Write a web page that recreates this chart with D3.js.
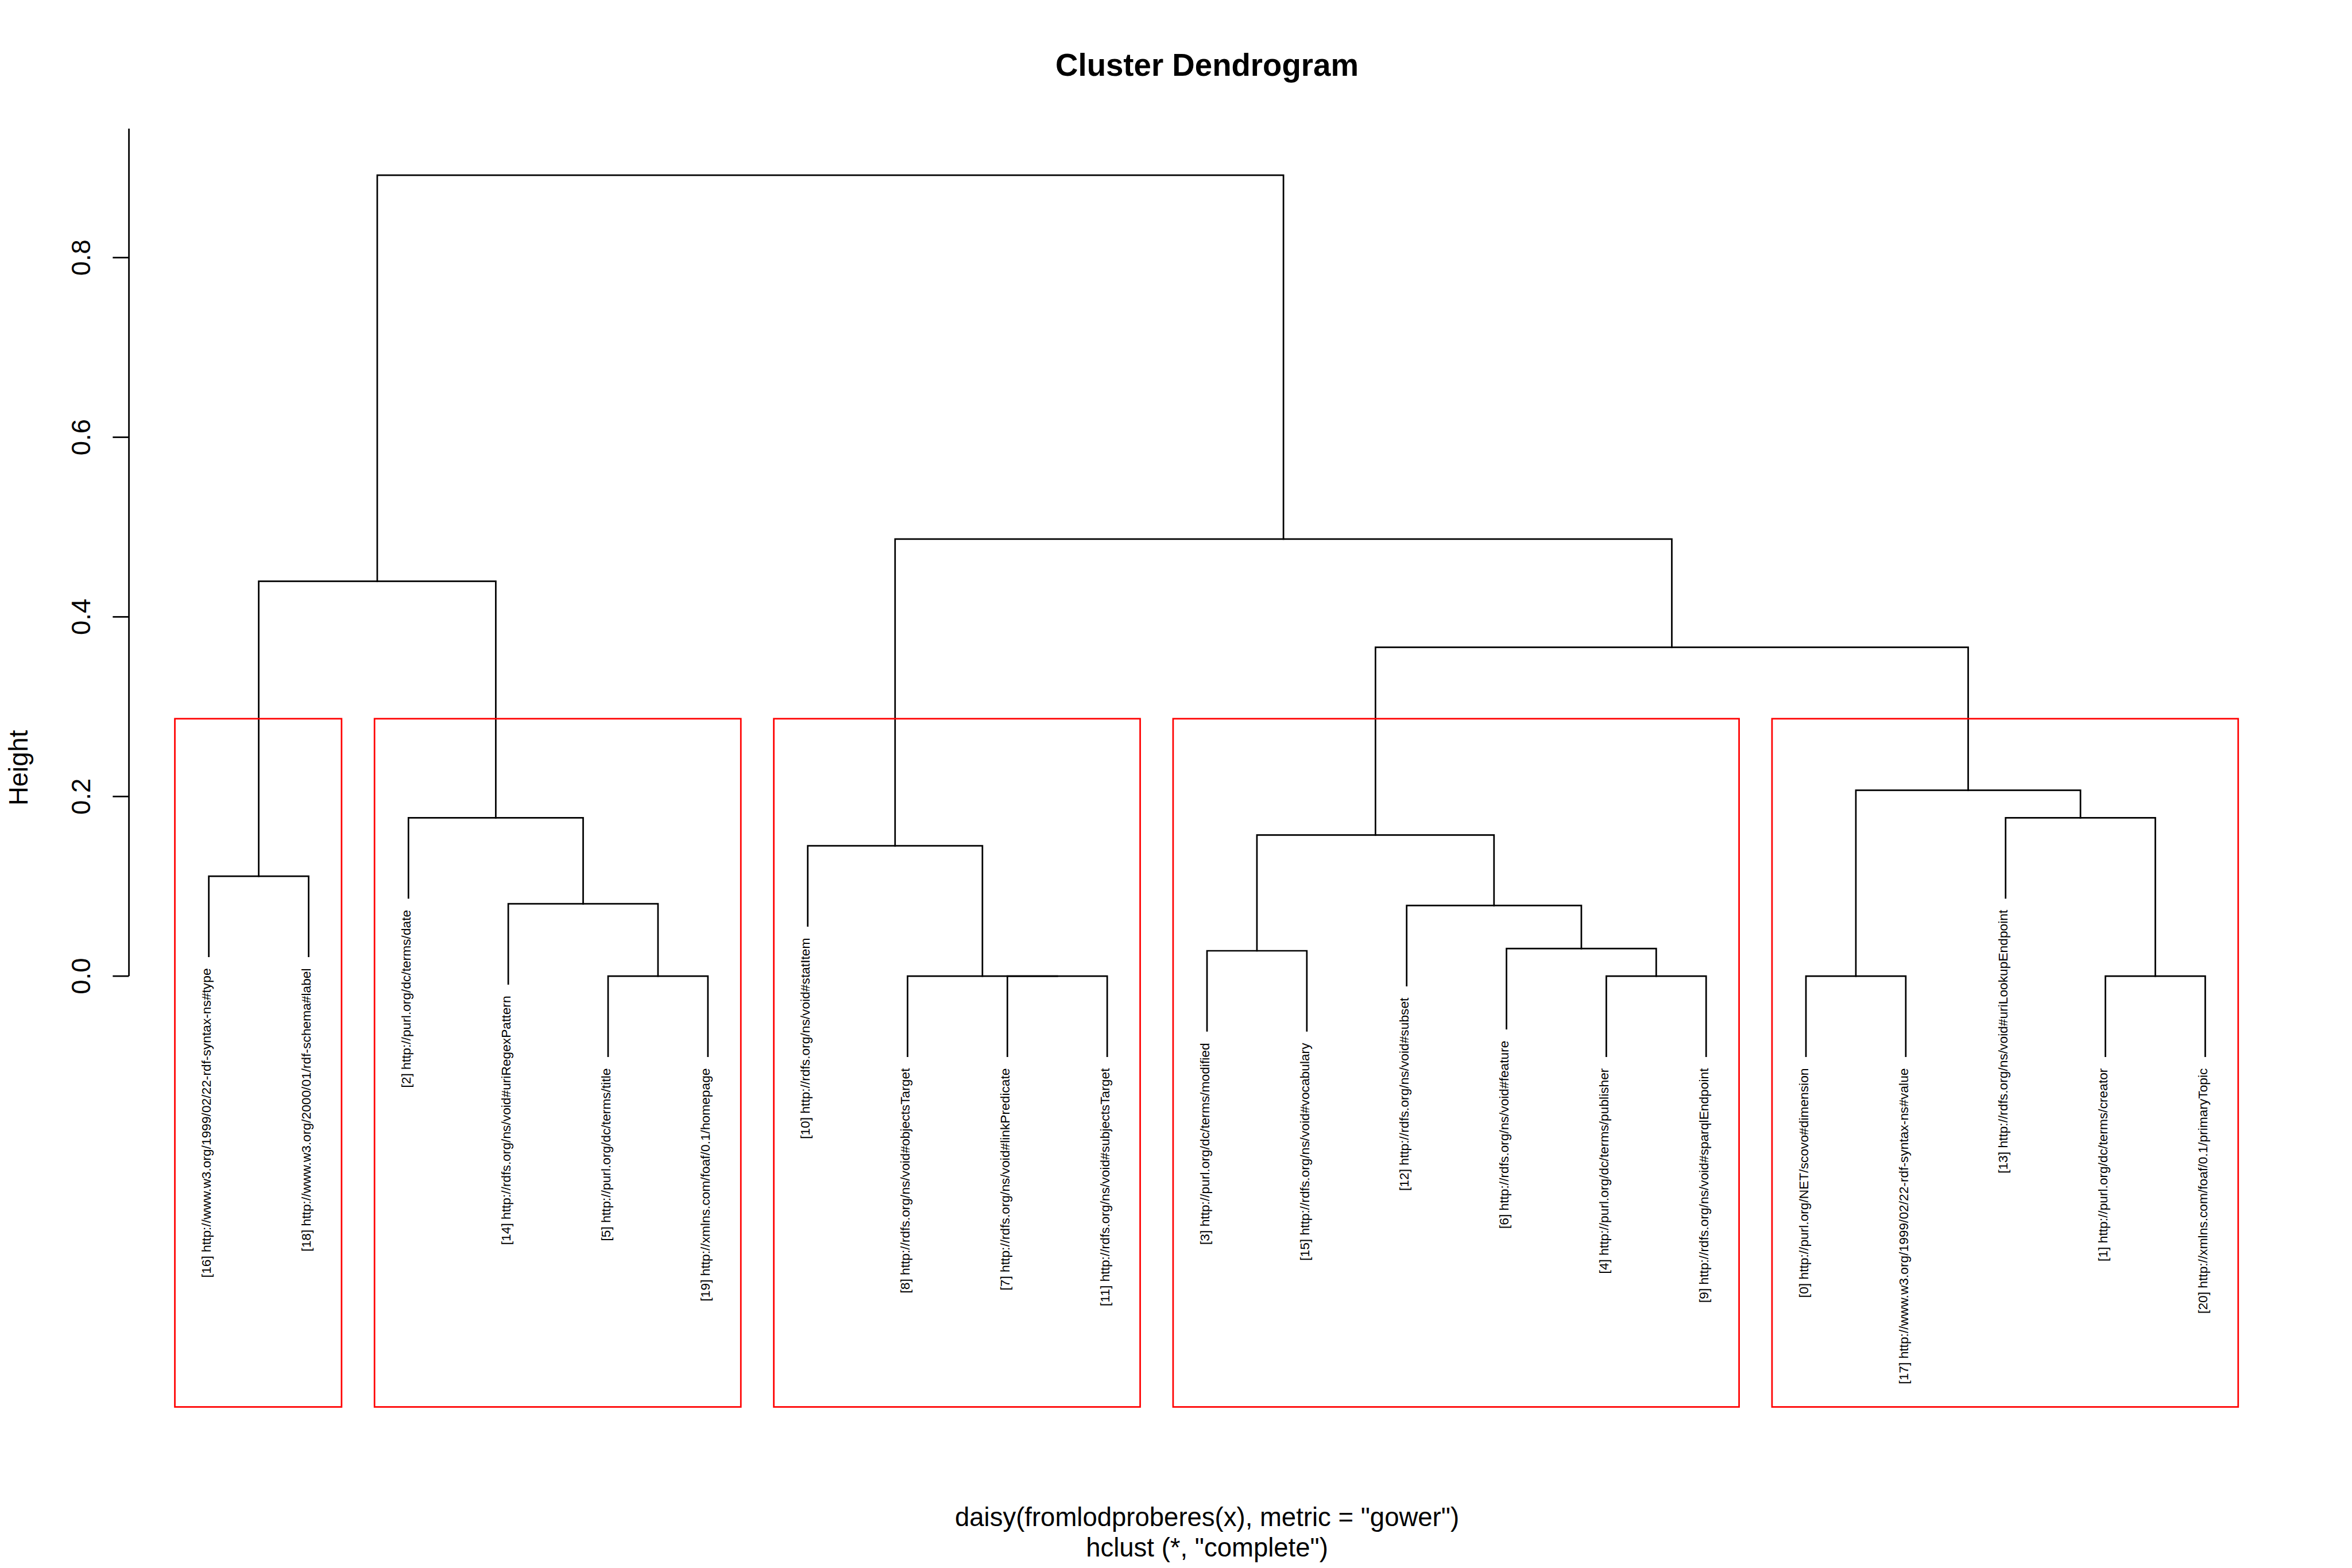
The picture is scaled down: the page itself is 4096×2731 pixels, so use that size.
<!DOCTYPE html>
<html>
<head>
<meta charset="utf-8">
<script src="https://cdn.jsdelivr.net/npm/d3@7"></script>
<style>
  html, body { margin: 0; padding: 0; background: #ffffff; }
  svg { display: block; }
  text { font-family: "Liberation Sans", Arial, Helvetica, sans-serif; fill: #000; }
</style>
</head>
<body>
<script>
// ---------------- DATA ----------------
// Leaf labels in dendrogram (left-to-right) order
const leafLabels = [
  "[16] http://www.w3.org/1999/02/22-rdf-syntax-ns#type",
  "[18] http://www.w3.org/2000/01/rdf-schema#label",
  "[2] http://purl.org/dc/terms/date",
  "[14] http://rdfs.org/ns/void#uriRegexPattern",
  "[5] http://purl.org/dc/terms/title",
  "[19] http://xmlns.com/foaf/0.1/homepage",
  "[10] http://rdfs.org/ns/void#statItem",
  "[8] http://rdfs.org/ns/void#objectsTarget",
  "[7] http://rdfs.org/ns/void#linkPredicate",
  "[11] http://rdfs.org/ns/void#subjectsTarget",
  "[3] http://purl.org/dc/terms/modified",
  "[15] http://rdfs.org/ns/void#vocabulary",
  "[12] http://rdfs.org/ns/void#subset",
  "[6] http://rdfs.org/ns/void#feature",
  "[4] http://purl.org/dc/terms/publisher",
  "[9] http://rdfs.org/ns/void#sparqlEndpoint",
  "[0] http://purl.org/NET/scovo#dimension",
  "[17] http://www.w3.org/1999/02/22-rdf-syntax-ns#value",
  "[13] http://rdfs.org/ns/void#uriLookupEndpoint",
  "[1] http://purl.org/dc/terms/creator",
  "[20] http://xmlns.com/foaf/0.1/primaryTopic"
];
// R-style merge matrix: negative = leaf (1-based position in leafLabels), positive = earlier merge step
const mergeLeft  = [-5, -9, -8, -15, -17, -20, -11, -14, -13, -4, -1, -7,  7,  -3, -19,  5, 13, 11, 12, 18];
const mergeRight = [-6, -10, 2, -16, -18, -21, -12,   4,   8,  1, -2,  3,  9,  10,   6, 15, 16, 14, 17, 19];
const mergeHeight = [0, 0, 0, 0, 0, 0, 0.0282, 0.0307, 0.0786, 0.0806, 0.1113, 0.1451, 0.1571,
                     0.1763, 0.1763, 0.2070, 0.3662, 0.4396, 0.4866, 0.8918];
const yTicks = [0.0, 0.2, 0.4, 0.6, 0.8];
const yTickLabels = ["0.0", "0.2", "0.4", "0.6", "0.8"];
const nClusters = 5;
const titleText = "Cluster Dendrogram";
const yLabel = "Height";
const xLabel = "daisy(fromlodproberes(x), metric = \"gower\")";
const subLabel = "hclust (*, \"complete\")";

// ---------------- LAYOUT ----------------
const W = 4500, H = 3000;
const svg = d3.select("body").append("svg")
  .attr("width", 4096).attr("height", 2731)
  .attr("viewBox", `0 0 ${W} ${H}`);
svg.append("rect").attr("width", W).attr("height", H).attr("fill", "#fff");

const plotLeft = 246.7, plotRight = 4372, plotTop = 246, plotBottom = 2692;
const nLeaves = leafLabels.length;
const x = d3.scaleLinear().domain([1 - 0.04 * (nLeaves - 1), nLeaves + 0.04 * (nLeaves - 1)]).range([plotLeft, plotRight]);
const y = d3.scaleLinear().domain([-0.4797, 0.9436]).range([plotBottom, plotTop]);
const hang = 0.1 * d3.max(mergeHeight);
const LW = 3;

// compute node positions
const nodeX = [], nodeH = [];
const leafTop = new Array(nLeaves + 1);
function childX(c) { return c < 0 ? -c : nodeX[c - 1]; }
function childH(c, parentH) { return c < 0 ? parentH - hang : nodeH[c - 1]; }
mergeLeft.forEach((l, i) => {
  const r = mergeRight[i];
  nodeX.push((childX(l) + childX(r)) / 2);
  nodeH.push(mergeHeight[i]);
});

const g = svg.append("g").attr("fill", "none").attr("stroke", "#000").attr("stroke-width", LW)
  .attr("stroke-linecap", "square").attr("stroke-linejoin", "miter");
mergeLeft.forEach((l, i) => {
  const r = mergeRight[i];
  const h = mergeHeight[i];
  const x1 = childX(l), x2 = childX(r);
  const h1 = childH(l, h), h2 = childH(r, h);
  if (l < 0) leafTop[-l] = h1;
  if (r < 0) leafTop[-r] = h2;
  const path = d3.path();
  path.moveTo(x(x1), y(h1));
  path.lineTo(x(x1), y(h));
  path.lineTo(x(x2), y(h));
  path.lineTo(x(x2), y(h2));
  g.append("path").attr("d", path.toString());
});

// leaf labels
leafLabels.forEach((lab, i) => {
  const pos = i + 1;
  const tx = x(pos) + 4, ty = y(leafTop[pos]) + 23;
  svg.append("text")
    .attr("transform", `translate(${tx},${ty}) rotate(-90)`)
    .attr("text-anchor", "end")
    .attr("font-size", 25)
    .text(lab);
});

// rect.hclust: cut into nClusters groups
const sortedH = mergeHeight.slice().sort((a, b) => b - a);
const cutH = (sortedH[nClusters - 2] + sortedH[nClusters - 1]) / 2;
// find cluster roots: nodes with height < cutH whose parent >= cutH, plus leaves
const parentOf = {};
mergeLeft.forEach((l, i) => { parentOf[l] = i + 1; parentOf[mergeRight[i]] = i + 1; });
function leavesOf(c) {
  if (c < 0) return [-c];
  return leavesOf(mergeLeft[c - 1]).concat(leavesOf(mergeRight[c - 1]));
}
const clusterRanges = [];
mergeLeft.forEach((l, i) => {
  const h = mergeHeight[i];
  if (h >= cutH) {
    [l, mergeRight[i]].forEach(c => {
      const ch = c < 0 ? -Infinity : mergeHeight[c - 1];
      if (ch < cutH) {
        const lv = leavesOf(c);
        clusterRanges.push([d3.min(lv), d3.max(lv)]);
      }
    });
  }
});
clusterRanges.sort((a, b) => a[0] - b[0]);
svg.append("g").selectAll("rect").data(clusterRanges).join("rect")
  .attr("x", d => x(d[0] - 1 + 0.66))
  .attr("width", d => x(d[1] + 0.33) - x(d[0] - 1 + 0.66))
  .attr("y", y(cutH))
  .attr("height", plotBottom - y(cutH))
  .attr("fill", "none").attr("stroke", "#ff0000").attr("stroke-width", LW);

// y axis
const ax = svg.append("g").attr("stroke", "#000").attr("stroke-width", LW);
ax.append("line").attr("x1", plotLeft).attr("x2", plotLeft)
  .attr("y1", y(yTicks[0])).attr("y2", plotTop);
yTicks.forEach((t, i) => {
  ax.append("line").attr("x1", plotLeft - 31).attr("x2", plotLeft)
    .attr("y1", y(t)).attr("y2", y(t));
  svg.append("text")
    .attr("transform", `translate(173,${y(t)}) rotate(-90)`)
    .attr("text-anchor", "middle").attr("font-size", 50)
    .text(yTickLabels[i]);
});

// axis title
svg.append("text")
  .attr("transform", `translate(53,${(plotTop + plotBottom) / 2}) rotate(-90)`)
  .attr("text-anchor", "middle").attr("font-size", 50).text(yLabel);

// main title
svg.append("text").attr("x", (plotLeft + plotRight) / 2).attr("y", 145)
  .attr("text-anchor", "middle").attr("font-size", 60).attr("font-weight", "bold").text(titleText);

// x label + sub
svg.append("text").attr("x", (plotLeft + plotRight) / 2).attr("y", 2920)
  .attr("text-anchor", "middle").attr("font-size", 50).text(xLabel);
svg.append("text").attr("x", (plotLeft + plotRight) / 2).attr("y", 2978)
  .attr("text-anchor", "middle").attr("font-size", 50).text(subLabel);
</script>
</body>
</html>
